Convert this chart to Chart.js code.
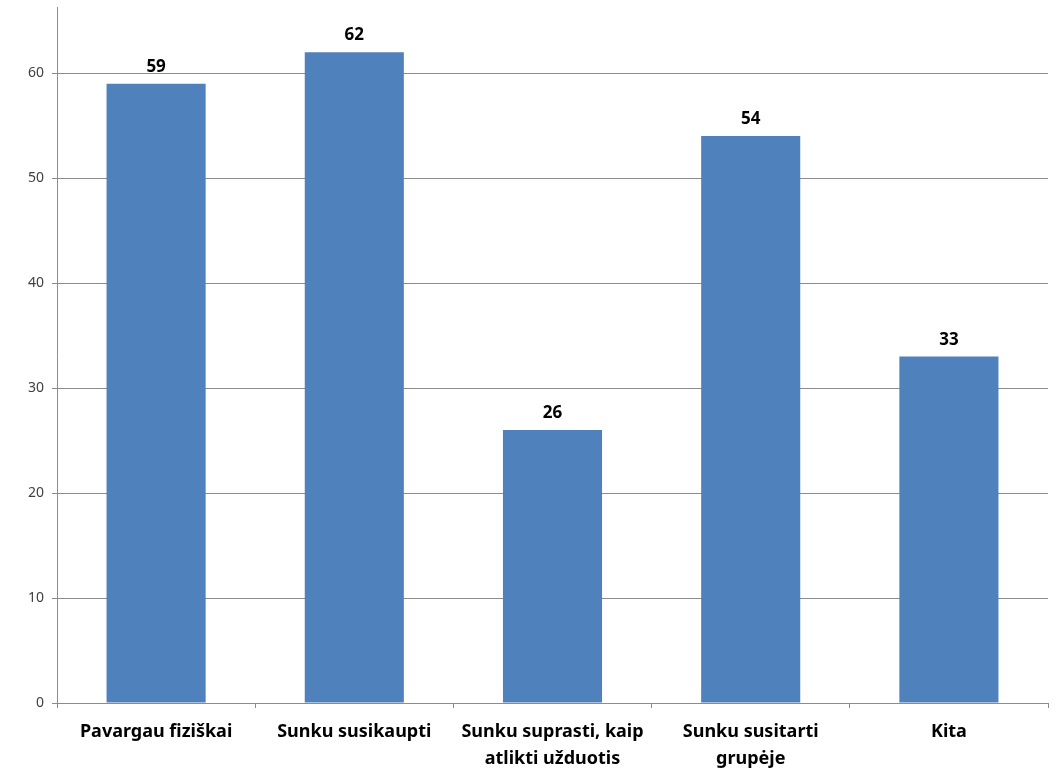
<!DOCTYPE html>
<html>
<head>
<meta charset="utf-8">
<script src="https://cdn.jsdelivr.net/npm/chart.js@4"></script>
<style>
    html, body { margin: 0; padding: 0; background: #fff; }
    #wrap { width: 1056px; height: 771px; }
</style>
</head>
<body>
<div id="wrap"><canvas id="barChart"></canvas></div>
<script>
    const categories = [
        'Pavargau fiziškai',
        'Sunku susikaupti',
        ['Sunku suprasti, kaip', 'atlikti užduotis'],
        ['Sunku susitarti', 'grupėje'],
        'Kita'
    ];
    const answers = [59, 62, 26, 54, 33];
    const yTicks = [0, 10, 20, 30, 40, 50, 60];

    // values above bars
    const valueLabels = {
        id: 'valueLabels',
        afterDatasetsDraw(chart) {
            const ctx = chart.ctx;
            const meta = chart.getDatasetMeta(0);
            ctx.save();
            ctx.font = 'bold 17px "Noto Sans", sans-serif';
            ctx.fillStyle = '#000';
            ctx.textAlign = 'center';
            ctx.textBaseline = 'bottom';
            meta.data.forEach((bar, i) => {
                ctx.fillText(answers[i], bar.x, bar.y - 8);
            });
            ctx.restore();
        }
    };

    document.addEventListener('DOMContentLoaded', () => {
        const ctx = document.getElementById('barChart').getContext('2d');
        new Chart(ctx, {
            type: 'bar',
            data: {
                labels: categories,
                datasets: [{
                    data: answers,
                    backgroundColor: '#4F81BD',
                    borderWidth: 0,
                    barPercentage: 0.5,
                    categoryPercentage: 1
                }]
            },
            options: {
                responsive: true,
                maintainAspectRatio: false,
                animation: false,
                layout: { padding: { top: 7, right: 8, left: 0, bottom: 0 } },
                plugins: { legend: { display: false }, tooltip: { enabled: false } },
                scales: {
                    y: {
                        min: 0,
                        max: 66.3,
                        afterBuildTicks: (axis) => {
                            axis.ticks = yTicks.map(v => ({ value: v }));
                        },
                        afterFit: (axis) => {
                            axis.width = 57;
                            axis.paddingTop = 0;
                            axis.paddingBottom = 0;
                        },
                        ticks: {
                            color: '#404040',
                            font: { family: '"Noto Sans", sans-serif', size: 14 },
                            padding: 8
                        },
                        grid: { color: '#8c8c8c', tickLength: 5 },
                        border: { color: '#8c8c8c' }
                    },
                    x: {
                        afterFit: (axis) => { axis.height = 68; },
                        ticks: {
                            color: '#000',
                            font: { family: '"Noto Sans", sans-serif', size: 18, weight: 'bold', lineHeight: 1.5 },
                            padding: 10,
                            maxRotation: 0,
                            autoSkip: false
                        },
                        grid: { drawOnChartArea: false, color: '#8c8c8c', tickLength: 5, offset: true },
                        border: { color: '#8c8c8c' }
                    }
                }
            },
            plugins: [valueLabels]
        });
    });
</script>
</body>
</html>
